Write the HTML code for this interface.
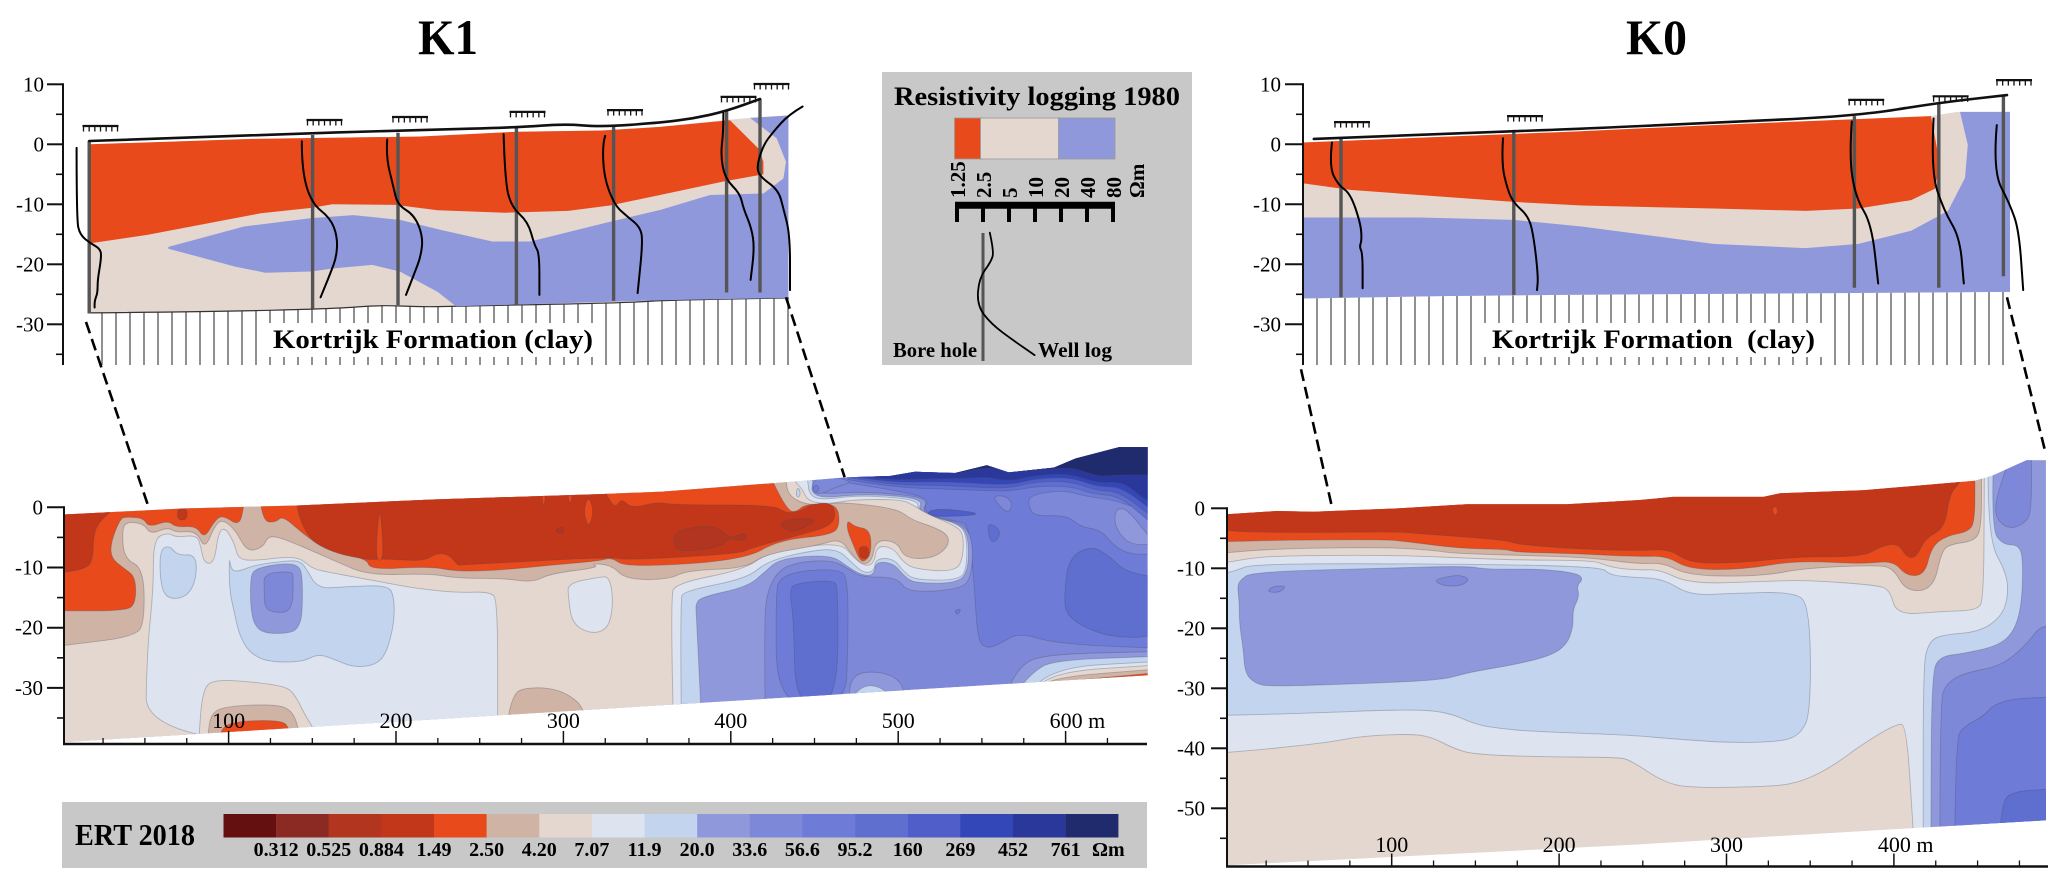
<!DOCTYPE html>
<html lang="en">
<head>
<meta charset="utf-8">
<title>K1 and K0 resistivity sections</title>
<style>
html,body{margin:0;padding:0;background:#fff;}
svg{display:block;}
text{font-family:"Liberation Serif",serif;fill:#000;}
.b{font-weight:bold;}
</style>
</head>
<body>
<svg id="fig" xmlns="http://www.w3.org/2000/svg" width="2067" height="886" viewBox="0 0 2067 886">
  <rect width="2067" height="886" fill="#fff"/>
  <text class="b" x="418" y="54" font-size="50" textLength="60" lengthAdjust="spacingAndGlyphs">K1</text>
  <text class="b" x="1626" y="54" font-size="50" textLength="61" lengthAdjust="spacingAndGlyphs">K0</text>

  <g>
    <rect x="882" y="72" width="310" height="293" fill="#c8c8c8"/>
    <text class="b" x="894" y="105" font-size="26" textLength="286" lengthAdjust="spacingAndGlyphs">Resistivity logging 1980</text>
    <g id="loggingLegend"></g>
    <text class="b" x="893" y="357" font-size="21" textLength="84" lengthAdjust="spacingAndGlyphs">Bore hole</text>
    <text class="b" x="1038" y="357" font-size="21" textLength="74" lengthAdjust="spacingAndGlyphs">Well log</text>
  </g>

  <g id="k1Log"></g>
  <g id="k0Log"></g>
  <g id="k1Ert"></g>
  <g id="k0Ert"></g>

  <g id="k1Labels">
    <text class="b" x="273" y="348" font-size="26" textLength="320" lengthAdjust="spacingAndGlyphs">Kortrijk Formation (clay)</text>
    <text class="b" x="1492" y="348" font-size="26" textLength="323" lengthAdjust="spacingAndGlyphs" xml:space="preserve">Kortrijk Formation  (clay)</text>
  </g>

  <g>
    <rect x="62" y="802" width="1085" height="66" fill="#c8c8c8"/>
    <text class="b" x="75" y="845" font-size="31" textLength="120" lengthAdjust="spacingAndGlyphs">ERT 2018</text>
    <g id="ertLegend"></g>
  </g>
</svg>
<script>
/* ---------- colour levels and legend values ---------- */
const levelColors=["#651010","#8b2a22","#b23520","#c23719","#e84a1b","#cfb3a5","#e3d7cf","#dde4ef","#c2d4ee","#9098dc","#7e88d8","#6e7cd8","#5f6fd0","#4f5ec9","#3347b8","#2b389b","#202b6e"];
const ertLegendLabels=["0.312","0.525","0.884","1.49","2.50","4.20","7.07","11.9","20.0","33.6","56.6","95.2","160","269","452","761"];
const logScaleValues=[1.25,2.5,5,10,20,40,80];
const logScaleLabels=["1.25","2.5","5","10","20","40","80"];
const logLegendBands=[[1.25,2.5,4],[2.5,20,6],[20,80,9]];
const logLegendResistivity=[3,3.35,3.1,2.25,2.13,3.1,5.67,9.9];
const logLegendDepth=[0,3.2,4.8,7.6,12.1,15.2,18,20.4];

/* ---------- axis tick values ---------- */
const logMajorTicks=[10,0,-10,-20,-30];
const logMinorTicks=[5,-5,-15,-25,-35];
const k1ErtMajorTicks=[0,-10,-20,-30];
const k1ErtMinorTicks=[-5,-15,-25,-35];
const k0ErtMajorTicks=[0,-10,-20,-30,-40,-50];
const k0ErtMinorTicks=[-5,-15,-25,-35,-45,-55];
const k1DistanceLabels=[100,200,300,400,500,600];
const k0DistanceLabels=[100,200,300,400];
const k1MinorDistances=[25,50,75,125,150,175,225,250,275,325,350,375,425,450,475,525,550,575,625];
const k0MinorDistances=[25,50,75,125,150,175,225,250,275,325,350,375,425,450,475];

/* ---------- K1 logging section: [distance m, elevation m] ---------- */
const k1LogSurface=[[.6,.55],[82.2,1.55],[166.4,2.4],[214.8,2.8],[238,3.4],[256.9,2.9],[286,3.6],[302.7,4.3],[319.3,5.55],[336,7.55]];
const k1LogTop=[[1.2,0],[82.2,.9],[166.4,1.3],[214.8,2.1],[256.9,2.3],[286,2.9],[317.7,4],[331,4.4],[350.2,4.8]];
const k1LogBottom=[[.6,-28.1],[61.2,-27.9],[124.3,-27.4],[145.4,-26.8],[166.4,-27.1],[183.2,-27],[271.6,-26.4],[285.9,-26],[350.2,-25.6]];
const k1LogBlue=[[40.2,-17.1],[78,-13.7],[111.7,-12.3],[132.7,-11.8],[155.9,-12.6],[176.9,-14.3],[202.2,-16.2],[221.1,-16.2],[261,-12.9],[286,-10.95],[311,-8.45],[337.7,-8.2],[347.7,-5.7],[349,-2.9],[344.3,1],[331,4.4],[350.2,4.8],[350.2,-25.6],[285.9,-26],[184,-27],[174.8,-24.6],[155.9,-21.2],[142.2,-20.1],[122.2,-20.7],[111.7,-21.2],[88.6,-21.4],[73.8,-20.4],[40.2,-17.4]];
const k1LogOrange=[[1.2,-16.5],[29.6,-15.1],[86.4,-11.5],[111.7,-10.6],[122.2,-10],[153.8,-10.1],[174.8,-11],[208.5,-11.4],[240,-11.1],[261,-10.2],[286,-8.45],[317.7,-6.2],[337.7,-5],[337.7,-2.9],[335.2,-.7],[321,4],[286,2.9],[256.9,2.3],[214.8,2.1],[166.4,1.3],[82.2,.9],[1.2,0]];
const k1BoreDistance=[.6,112.3,155,214.2,262.8,319.3,336];
const k1BoreTop=[.55,1.55,1.93,2.8,3.2,5.55,7.55];
const k1BoreBottom=[-28.2,-27.4,-26.8,-26.8,-26.1,-24.7,-24.7];
const k1CombDistance=[6.25,118.25,161,219.75,268.5,325.25,341.75];
const k1CombElevation=[3.05,4.05,4.55,5.4,5.7,7.9,10.05];
const k1WellLog1=[[-5.7,-.6],[-5.7,-12.6],[-4,-15.1],[1.2,-16.5],[6.5,-17.5],[6.5,-19.3],[4.8,-22.6],[4.8,-24.8],[3.3,-26],[3.3,-27.2]];
const k1WellLog2=[[106.9,.5],[106.9,-4.3],[111.7,-9.8],[121.2,-12.3],[124.7,-15.4],[124.3,-18.7],[121.2,-21.5],[116.3,-25.5]];
const k1WellLog3=[[149.6,.8],[149,-2.1],[152.7,-7.1],[154.8,-10.1],[163.2,-11.8],[167.5,-15.4],[166.4,-18.7],[163.2,-21.5],[159,-25.1]];
const k1WellLog4=[[207.8,1.7],[208.5,-6],[211.6,-10.4],[220,-12.9],[223.2,-16.8],[225.7,-18.2],[225.7,-25.1]];
const k1WellLog5=[[258.6,1.4],[257.3,.2],[257.9,-5.4],[263.2,-10.1],[269.5,-12],[275.8,-13.7],[277.5,-15.9],[274.8,-24.8]];
const k1WellLog6=[[317.7,5.2],[317.7,2.1],[316.3,-1.8],[318.5,-5.7],[326,-8.2],[327.7,-10.7],[331.8,-14],[333.2,-17.3],[331.3,-22.6]];
const k1WellLog7=[[357.3,6.3],[350.2,4.9],[342.7,2.1],[337.7,-.1],[334.3,-3.7],[336,-5.4],[345.2,-7.6],[347.7,-10.7],[351,-15.1],[351,-24.3]];

/* ---------- K0 logging section ---------- */
const k0LogSurface=[[5.4,.9],[105.4,2.2],[133.5,2.5],[205.2,3.6],[276.4,4.7],[317.2,6.9],[352,8.2]];
const k0LogTop=[[-.2,.3],[133.5,2.1],[205,3.2],[314,4.7],[327.1,5.4],[353.5,5.4]];
const k0LogBottom=[[-.2,-25.7],[68.6,-25.3],[129.9,-25.1],[353.5,-24.6]];
const k0LogBlue=[[-.2,-12.2],[58.4,-12.2],[105.4,-12.6],[139.3,-13.7],[205.2,-16.6],[251.3,-17.3],[277.7,-16.6],[304.1,-14.4],[322.5,-11.1],[331,-5.6],[332.4,-.1],[328.5,5.4],[353.5,5.4],[353.5,-24.6],[129.9,-25.1],[68.6,-25.3],[-.2,-25.7]];
const k0LogOrange=[[-.2,-6.5],[23.7,-7.6],[105.4,-9.6],[139.3,-10.2],[205.2,-10.7],[251.3,-11.1],[277.7,-10.7],[304.1,-9.3],[315.9,-7.4],[318.5,-3.4],[314,4.7],[205,3.2],[133.5,2.1],[-.2,.3]];
const k0BoreDistance=[19,105.4,275.7,317.9,350.2];
const k0BoreTop=[1,2.4,4.7,6.9,8.2];
const k0BoreBottom=[-25.5,-25.1,-23.9,-23.9,-22];
const k0CombDistance=[24.5,111,281.6,323.8,355.5];
const k0CombElevation=[3.7,4.7,7.4,8,10.7];
const k0WellLog1=[[14.5,.3],[13.1,-3.7],[17.6,-6.8],[23.7,-8.2],[28.8,-13.2],[29.4,-16],[28.2,-17.1],[29.8,-18.2],[29.8,-24]];
const k0WellLog2=[[100,1],[99.2,-3.2],[102.3,-7.6],[105.4,-9.8],[113.1,-12.1],[115.6,-16],[117.6,-22.1],[117,-24.3]];
const k0WellLog3=[[274.4,3.8],[273.1,-2.3],[276.4,-8.9],[284.3,-13.3],[287.6,-23.2]];
const k0WellLog4=[[315.3,4.3],[313.9,-4.5],[320.5,-11.1],[328.4,-15.5],[330.4,-23.2]];
const k0WellLog5=[[346.9,3.2],[344.9,-4.5],[353.5,-10],[358,-14.4],[360.1,-24.3]];

/* ---------- K1 ERT section contours ---------- */
const k1Section=[[1.8,-1.2],[72.6,-.2],[141,.3],[222,1.3],[322,2.2],[359,2.6],[425,4],[448,4.5],[470,5],[495,5.2],[510,5.9],[534,5.7],[553,7],[566,5.8],[593,6.6],[606,8.1],[632,10],[649,10],[649,-27.9],[1.8,-39]];
const k1Right11=[[542,-3.2],[545.3,-12.1],[547.4,-22.1],[552.8,-23.5],[561.3,-22.6],[572,-20.8],[593.3,-22.6],[649,-23.4],[700,-23.4],[700,15],[454.6,15],[454.6,6],[456.8,4.7],[465.3,4.3],[478,3.7],[508,2.3],[518.6,1.2],[514.8,-.2],[520.8,-1.6],[537.8,-2.4]];
const k1PatchA=[[556.4,1.8],[563.4,2],[568.5,.7],[566,-1],[560.8,.1]];
const k1PatchB=[[578,2],[598,2.9],[612.4,1.8],[629,1.2],[639.5,.1],[660,-1],[660,-7.7],[639.5,-7.9],[629,-6.5],[621.4,-3.8],[608.5,-3.2],[600.8,-1.3],[581.4,-1.5],[578,.1]];
const k1PatchC=[[630.5,-.2],[635.6,-.2],[642,-2.1],[649,-4.6],[655,-6.1],[639.5,-6.3],[631.7,-4.3],[629,-2.1]];
const k1Island12Small=[[553,-3.2],[555.6,-2.7],[560.8,-3.8],[560,-5.2],[555.6,-6]];
const k1Island12Big=[[602,-8.2],[616,-6.4],[626.6,-8.2],[634.3,-10.4],[649,-11.5],[660,-11.5],[660,-21],[639.5,-21.8],[618.8,-21],[600.8,-18.2],[599,-14.9]];
const k1Sliver13=[[517,-.7],[526,-.2],[548,-.9],[544,-1.4],[519.5,-1.6]];
const k1Speck11=[[533.6,-17.1],[538,-16.9],[535,-18]];
const k1Top12=[[470,4.6],[495,3.3],[541,2.9],[566,2.6],[583,3.5],[603,3.5],[616,2.2],[632,1.9],[649,-2.1]];
const k1Top13=[[472,4.9],[495,3.7],[521,3.7],[541,3.4],[566,3.1],[583,4.3],[603,4.3],[618,2.8],[632,2.6],[649,-1]];
const k1Top14=[[474,5.1],[495,4.1],[521,4.3],[541,4.1],[566,3.7],[583,4.8],[603,5],[619,3.4],[633,3.4],[649,.1]];
const k1Top15=[[478,5.2],[495,4.5],[521,4.8],[541,4.8],[553,5.1],[566,4.3],[583,5.4],[603,5.6],[619,4],[634,4.3],[645,1.8],[649,1.2]];
const k1Top16=[[534,5.6],[554,6.9],[566,5.8],[593,6.5],[606,6.5],[619,5.1],[632,5.4],[649,5.4]];
const k1Column11=[[427.3,-33.1],[426.9,-14.3],[429,-11.8],[441.8,-10.5],[465.3,-10.3],[470,-12.1],[470,-23.2],[468.5,-33.1]];
const k1Column12=[[438.6,-33.1],[437.6,-18.7],[435,-13.8],[438.6,-12.6],[461,-12.1],[464.2,-13.2],[463.6,-33.1]];
const k1Below33=[[420.5,-33.1],[419.9,-18.7],[422,-13.7],[429,-10.3],[441.8,-9],[461,-8.8],[470.6,-10.3],[478,-11.6],[499.4,-11.6],[505.8,-14.2],[537.8,-13.6],[543.8,-11.5],[544.7,-5.4],[537.8,-2.4],[520.8,-2],[514.4,-.7],[517.6,1.1],[508,2],[478,2.6],[454.6,2.2],[449.3,2.9],[452.5,4.3],[452.5,5.6]];
const k1Below20=[[382,-32.7],[379.4,-17.6],[379,-16.2],[382,-14.9],[410,-13.2],[420.5,-10.7],[428,-8.8],[444,-8.1],[461,-8.1],[469.6,-9.8],[478,-11.3],[485.6,-11.3],[486.6,-9],[497.3,-9.3],[503.7,-11.5],[510,-12.6],[535.7,-12.6],[542,-10.4],[542,-4.9],[536.8,-2.7],[518.6,-1.7],[512,-.2],[514.4,.9],[505.8,1.8],[476,2.2],[454.6,1.5],[447.8,2.6],[449.3,4.1],[448,5.6]];
const k1Below12=[[370.4,-33],[369.8,-15.4],[371.9,-13.9],[410,-11.8],[421.6,-9],[444,-7.4],[463.2,-6.8],[472.8,-9.3],[479.2,-10.9],[485.6,-10.7],[486.6,-8.5],[497.3,-8.5],[503.3,-10.7],[510,-12.1],[536.8,-12.1],[541,-10],[541,-4.6],[535.7,-2.7],[517.6,-1.4],[511.2,0],[512.2,.7],[504.8,1.5],[475,2],[454.6,1.2],[447,2],[446,4.3],[445,5.6]];
const k1Below7=[[365.5,-33.1],[364,-14.9],[367.2,-12.6],[407.7,-10.4],[422.7,-7.4],[465.3,-5.7],[473.8,-8.5],[480.2,-9.8],[485.6,-9.3],[487.3,-6.3],[497.3,-6.8],[502.6,-9],[510,-10.3],[534.6,-10.7],[538.9,-8.2],[538.9,-4.3],[533.6,-3],[516.5,-1],[509,.4],[501.6,1.3],[473.8,1.3],[456.8,.5],[446,1.1],[443,2.9],[437.6,4.5],[436,5.6]];
const k1LeftPale=[[50.2,-39.2],[51.3,-23.7],[55.1,-13.7],[55.1,-5.2],[64.1,-4.2],[68.4,-5],[81.2,-4.6],[83.3,-6.5],[85.4,-9.3],[91.4,-9.3],[94,-4],[98.2,-3.4],[103.5,-6],[105.7,-8.6],[115.3,-8.9],[140.9,-8],[149.4,-10.1],[158,-10.7],[179.3,-11.8],[200.6,-12.9],[213.4,-13.5],[236.9,-14.2],[256,-14],[260.7,-15.4],[260.7,-34.8],[260.7,-40]];
const k1LeftBlueA=[[58.8,-7.1],[64.5,-6.3],[69.4,-8],[80.7,-7.8],[80.7,-12.1],[74.8,-14.9],[64.1,-15.3],[59.4,-13.2]];
const k1LeftBlueB=[[100.4,-8],[101.4,-10.4],[105.7,-10.7],[115.3,-9.6],[136.6,-8.8],[143,-9],[146.2,-10.1],[153.2,-13.5],[168.6,-13.2],[195.3,-12.9],[198.9,-14.9],[198.9,-19.3],[194.2,-24.3],[187.8,-26.2],[175,-26.6],[164.3,-25.4],[153.7,-24.3],[144.1,-25.7],[123.8,-25.7],[113.1,-24.3],[106.7,-21.5],[103.5,-17.6],[100.4,-13.7]];
const k1LeftBlue9=[[113.1,-11.8],[115.3,-10.2],[132.3,-9.3],[141.9,-9.6],[144.1,-11.5],[144.1,-17.6],[142,-19.8],[137.7,-20.9],[121.7,-21],[115.3,-19.6],[113.1,-16.5]];
const k1LeftBlue10=[[121,-11],[137.7,-10.6],[138.7,-11.5],[138.1,-17.4],[126,-17.5],[121.3,-16.5],[121.3,-13.7]];
const k1BottomBeige=[[82.2,-38.4],[84.4,-30.4],[90.8,-28.6],[115.3,-29],[134.5,-29.8],[139.8,-31.2],[146.2,-34.8],[151.5,-37],[151.5,-42],[82,-42]];
const k1BottomTan=[[87.5,-37.8],[89.7,-34],[100.4,-33],[128.1,-32.7],[137.7,-33.7],[142,-36.7],[144,-42],[87,-42]];
const k1BottomOrange=[[94,-37.6],[100.4,-35.6],[131.3,-35.3],[136.6,-36.7],[138,-42],[94,-42]];
const k1BottomTanRight=[[266.7,-34.8],[270,-31.5],[274.2,-30.1],[290.2,-29.9],[303,-31],[313.6,-33.7],[316,-42],[266,-42]];
const k1PaleRight=[[302.6,-12.6],[321.8,-11.6],[326.7,-11.5],[329.2,-13.7],[329.2,-17.6],[325.6,-20.4],[316,-21],[305.1,-19.3],[303,-14.9]];
const k1Corner9=[[566.6,-29.8],[572,-26.2],[589,-24.4],[649,-24]];
const k1Corner8=[[573,-29.8],[580.5,-27.3],[593.3,-25.4],[649,-24.8]];
const k1Corner7=[[583,-29.4],[593.3,-26.6],[649,-25.7]];
const k1Corner6=[[587,-29],[595.4,-27.3],[649,-26.3]];
const k1Corner5=[[590,-29],[597.6,-28.1],[649,-27]];
const k1Corner4=[[595.4,-29],[649,-27.6]];
const k1Blob9=[[470.6,-31.5],[471.7,-28.7],[478,-27.3],[493,-27.5],[501.6,-29],[503.7,-31],[503.7,-36],[470.6,-36]];
const k1Blob8=[[471.7,-31.5],[480.2,-29.5],[488.8,-29.8],[494,-31],[494,-36],[471.7,-36]];
const k1TopBlob10=[[448.2,3.7],[452.2,5.1],[461.1,5.1],[473,4.2],[463,3.4],[455.1,2.3],[450.2,2.3]];
const k1TopBlob11=[[448.8,3.1],[451.2,3.9],[453.2,2.9],[450.2,2.3]];
const k1TopSpeck=[[438.8,2.3],[440.2,3.4],[441.8,2.3],[440.2,1.5]];
const k1Below4=[[-5,-23.2],[1.8,-22.9],[44.9,-21.5],[49.8,-18.7],[49.2,-10.1],[37.4,-8.5],[36.4,-3.5],[39.6,-2.4],[49.2,-2.7],[53.4,-4.5],[63.7,-3.3],[68.4,-4.2],[80.7,-3.9],[85.8,-7],[91.8,-3],[96.5,-2],[104.2,-3.8],[111,-7.4],[120.6,-6.7],[123.8,-4.6],[134.5,-5.4],[153.7,-7.7],[164.3,-9],[183.5,-11.3],[219.8,-11],[236.9,-11.8],[264.6,-11.8],[281.7,-12.5],[292.3,-11],[321.8,-10],[316,-9.3],[328.8,-9.6],[337.3,-12],[363,-12],[373.6,-10.5],[408.8,-10.1],[420.5,-7.8],[452.5,-6.3],[465.3,-5.2],[472.8,-8],[479.2,-9.6],[484.5,-8.8],[486.6,-5.4],[499.4,-5.7],[503.7,-8.5],[520.8,-8.5],[530,-6.5],[530,-4.6],[520.8,-3.2],[508,-2.1],[499.4,-.2],[465.3,.9],[456.8,.4],[444,.5],[434.4,2],[432.9,4.5],[432,5.6]];
const k1Below2Left=[[-5,-17.2],[1.8,-17.2],[38.5,-17.2],[44.5,-16],[44.5,-11.6],[37.4,-10.1],[30,-8.5],[29.5,-6],[35.3,-1.8],[39.6,-1.6],[49.2,-1.8],[52.4,-3.3],[63.7,-2.2],[68.4,-3.3],[80.7,-3.1],[85.4,-5.2],[91.8,-2.2],[96.5,-1.3],[106.7,-3.2],[109.3,.7]];
const k1Below2Right=[[119.1,.7],[120.6,-2.4],[128.1,-2.5],[132.3,-1.4],[144.1,-4.3],[157.9,-7.1],[182.5,-8.5],[184.6,-10.4],[219.8,-9.8],[236.9,-10.7],[264.6,-10.4],[292.3,-9.6],[321.8,-8.9],[328.8,-8.3],[337.3,-10],[407.7,-8.8],[429,-5.4],[461,-4.6],[465.3,-2.7],[463.2,.7],[444,.5],[439.7,-.7],[434.4,-.7],[424.8,4.3],[423.7,5.6]];
const k1OrangeLobe=[[469.6,-2.1],[473.8,-3.2],[483.4,-3.7],[483.9,-7.6],[480.2,-9],[477,-8.8],[472.8,-6],[469.6,-3.8]];
const k1DarkLobe=[[476.4,-6.5],[482.4,-6.5],[482.4,-8.5],[477,-8.5]];
const k1DarkLeft=[[28.9,-.9],[23.6,-2.1],[19.3,-4.3],[18.9,-8.8],[15,-10.1],[1.8,-10.9],[-20,-10.9]];
const k1DarkPatch=[[69.4,-.2],[75.2,-.2],[75.2,-2.1],[69.4,-2.1]];
const k1DarkMain=[[140.9,.1],[144.1,-4.1],[159,-7.3],[183.5,-8.8],[192.1,-8.5],[216.6,-9],[224,-7.6],[231.5,-7.8],[236.9,-9.6],[238.2,-9.6],[329.8,-8.2],[335.8,-8.8],[405.4,-7.7],[411.4,-6.8],[445.2,-4.3],[458.1,-3.2],[463.1,-1.6],[460.1,.9],[447.2,.4],[441.2,-.7],[433.3,-1],[425.3,.4],[365.6,.4],[355.7,.9],[340.7,-.2],[334.8,1.5],[330.8,-.2],[325.8,2.1]];
const k1SliverOrange=[[188,-8.8],[189,-3],[190.3,-.5],[191.5,-3],[192.5,-8.8]];
const k1DropA=[[311.9,-.7],[315,2],[318.2,-.7],[315,-3.5]];
const k1DropB=[[287,2],[289.5,2],[288.2,-.1]];
const k1DropC=[[302.5,2.1],[305.5,2.1],[304,.4]];
const k1Deep2A=[[365.6,-5.4],[368.6,-3.8],[381.5,-3.2],[391.5,-3.2],[398.4,-4.9],[401.4,-5],[409.4,-4.1],[409,-5.7],[401.4,-5.2],[398.4,-5.3],[393.5,-6.6],[371.6,-7.4],[366.6,-6.6]];
const k1Deep2B=[[430.3,-2.7],[435.3,-1.9],[452.2,-1.9],[445.2,-3.2],[436.3,-4.2],[430.3,-3.2]];
const k1Deep2C=[[294,-3.8],[300,-3.1],[300,-4.6]];

/* ---------- K0 ERT section contours ---------- */
const k0Section=[[1.4,-1],[31.3,-.45],[53.2,-.56],[105,0],[144.8,.66],[204.5,.66],[248.3,1.38],[268,1.9],[322,1.9],[332,2.5],[381.7,3],[448.4,4.6],[459.3,5.5],[479.2,8],[490.8,8],[490.8,-52],[411.5,-53.3],[242.3,-56.1],[1.4,-59.5]];
const k0BottomBeige=[[-10,-40.8],[1.4,-40.8],[61.2,-39.1],[81,-38],[109,-37.6],[122.9,-38],[136.8,-40],[148.8,-41],[184.6,-41.4],[234.4,-41.5],[242.3,-41.9],[262,-45.6],[278.1,-46.6],[322,-46.4],[342,-45.9],[361.8,-43.3],[381.7,-39.2],[401.6,-35.9],[407.5,-36.1],[411.5,-53.6]];
const k0MainBlue=[[-10,-10.8],[1.4,-10.8],[7.4,-10.3],[17.4,-9.3],[100,-9.2],[224.4,-9.6],[230.4,-11.1],[242.3,-11.5],[262,-11.7],[278.1,-14.5],[302,-14.2],[339.9,-13.9],[349.8,-16.1],[350.4,-34.2],[343.8,-37.8],[332,-38.9],[302,-39.1],[262,-38.3],[242.3,-37.8],[184.6,-37.2],[164.7,-36.7],[150.8,-36.1],[132.8,-33.9],[109,-33.5],[45.2,-34.2],[1.4,-34.5],[-10,-34.5]];
const k0Main9=[[7.8,-13.1],[9.4,-12],[16.4,-10.6],[95,-10],[144.8,-9.6],[156.7,-10.2],[188.6,-10.1],[210.5,-10.8],[214.5,-11.8],[210.5,-12.9],[212.1,-14.7],[208.1,-16.9],[208.5,-19.7],[204.5,-22.8],[194.6,-24.6],[174.6,-26],[144.8,-27.4],[130.8,-28.6],[85,-29.2],[27.3,-29.7],[18.4,-29.2],[12.4,-27.5],[11.4,-23.6],[9,-19.2],[9,-15.8]];
const k0Speck10A=[[26.3,-13.6],[29.3,-13],[37.3,-12.9],[33.3,-14],[26.9,-14]];
const k0Speck10B=[[125,-12],[132.8,-11.4],[140.8,-11.1],[146.8,-11.8],[141.8,-12.95],[130.8,-12.95]];
const k0Right8=[[456.3,5.8],[456.3,-5.3],[467.3,-10.8],[468.3,-14.7],[464.3,-18],[451.4,-20.6],[427.5,-21.1],[420.5,-22.5],[417.5,-26.4],[417.5,-55.3]];
const k0Right9=[[459.3,6.9],[458.3,-3.6],[465.3,-6.1],[475.2,-6.1],[477.2,-9.2],[476.2,-16.4],[471.3,-20.8],[461.3,-23],[441.4,-24.2],[427.5,-24.7],[422.5,-27.5],[422.1,-55.3]];
const k0RightLobe10=[[467.3,6.9],[460.3,1.4],[461.3,-1.95],[469.3,-3.5],[478.2,-2.5],[482.2,-.6],[482.2,9.2]];
const k0Right10=[[427.5,-55.3],[427.5,-32],[431.4,-29.2],[441.4,-27.5],[461.3,-26.4],[471.3,-24.7],[481.2,-22],[486.2,-20],[493,-19.5]];
const k0Right11=[[436.4,-55.3],[437,-38.6],[441.4,-36.4],[453.3,-34.7],[459.3,-32.8],[471.3,-31.7],[493,-31.5]];
const k0Right12=[[462.9,-55.3],[464.3,-49.2],[470.3,-47.2],[493,-46.8]];
const k0Beige=[[-10,-9.3],[1.4,-9.06],[15.4,-8.3],[35.3,-7.9],[99,-7.8],[144.8,-8.3],[172.7,-8.6],[220.4,-8.7],[227.4,-9.45],[234.4,-10],[248.3,-10.3],[260,-10.2],[278.1,-12.6],[322,-12.2],[345.8,-11.95],[389.6,-12.8],[397.6,-13.6],[401.6,-17.8],[427.5,-17.2],[449.4,-17],[453.7,-15.3],[454,5]];
const k0Tan=[[-10,-7.6],[1.4,-7.4],[33.3,-6.7],[97,-6.5],[125,-7],[136.8,-7.5],[170.7,-7.8],[204.5,-8.06],[224.4,-8.45],[248.3,-9.3],[262,-9.07],[278.1,-11.3],[322,-11.3],[345.8,-10],[389.6,-9.45],[399.6,-10],[407.5,-13.9],[423.5,-13.5],[428.5,-7.2],[433.4,-6],[449.4,-5.4],[452.3,-2.5],[452.3,5.8]];
const k0Orange=[[-10,-5.6],[1.4,-5.56],[35.3,-5.3],[97,-5.2],[109,-5.56],[140.8,-6.7],[168.7,-6.84],[173.6,-7.3],[204.5,-7.5],[248.3,-8.06],[264.2,-7.95],[278.1,-10.2],[310,-10.2],[341.9,-8.7],[381.7,-9.3],[399.6,-8.7],[407.5,-11.3],[418.5,-11.1],[422.5,-6.4],[431.4,-4.6],[444.4,-3.9],[448.4,-2.2],[448.4,5.8]];
const k0Dark=[[-10,-3.5],[1.4,-3.6],[7.4,-3.9],[45.2,-4.06],[103,-3.9],[115,-4.2],[168.7,-5.3],[174.6,-6],[212.5,-6.84],[248.3,-7.06],[266.2,-6.8],[278.1,-9.2],[310,-9.07],[341.9,-8.07],[381.7,-8.07],[391.6,-6.4],[402.6,-5.8],[407.5,-8.2],[413.5,-8.2],[418.5,-5],[430.4,-3.3],[433.4,2.5],[439.4,4.15],[440.4,5.8]];
const k0DropOrange=[[327.3,0],[329.3,.4],[330.9,-.4],[329.3,-1.3],[327.9,-.85]];

/* ---------- connector endpoints as [distance, elevation] on each section ---------- */
const k1ConnectorTop=[-1,-29.6,349,-25.5];
const k1ConnectorBottom=[52,0.2,468,5];
const k0ConnectorTop=[-1,-37.5,352,-25.5];
const k0ConnectorBottom=[64,.6,490.8,9];

/* ---------- axis functions ---------- */
const xK1Log=d=>88+2*d;
const xK0Log=d=>1303+2*d;
const yLog=e=>144.3-6*e;
const xK1Ert=m=>61.2+1.674*m;
const yK1Ert=e=>507.3-6.02*e;
const xK0Ert=m=>1224.3+1.674*m;
const yK0Ert=e=>508.3-6*e;
const xLogScale=r=>957+26*Math.log2(r/1.25);

const NS="http://www.w3.org/2000/svg";
function el(parent,tag,attrs,name){
  const n=document.createElementNS(NS,tag);
  for(const k in attrs)n.setAttribute(k,attrs[k]);
  
  
  parent.appendChild(n);
  return n;
}
function fmt(v){return v.toFixed(1);}
function straight(pts,X,Y){return pts.map((p,i)=>(i?'L':'M')+fmt(X(p[0]))+' '+fmt(Y(p[1]))).join('')+'Z';}
function smoothOpen(pts,X,Y){
  const q=pts.map(p=>[X(p[0]),Y(p[1])]);
  let d='M'+fmt(q[0][0])+' '+fmt(q[0][1]);
  for(let i=1;i<q.length-1;i++){
    const mx=(q[i][0]+q[i+1][0])/2,my=(q[i][1]+q[i+1][1])/2;
    d+='Q'+fmt(q[i][0])+' '+fmt(q[i][1])+' '+fmt(mx)+' '+fmt(my);
  }
  const l=q[q.length-1];
  return d+'L'+fmt(l[0])+' '+fmt(l[1]);
}
function smoothClosed(pts,X,Y){
  const q=pts.map(p=>[X(p[0]),Y(p[1])]),n=q.length;
  const mid=(a,b)=>[(a[0]+b[0])/2,(a[1]+b[1])/2];
  let s=mid(q[n-1],q[0]),d='M'+fmt(s[0])+' '+fmt(s[1]);
  for(let i=0;i<n;i++){
    const m=mid(q[i],q[(i+1)%n]);
    d+='Q'+fmt(q[i][0])+' '+fmt(q[i][1])+' '+fmt(m[0])+' '+fmt(m[1]);
  }
  return d+'Z';
}
const EDGE='rgba(70,70,90,.32)';
function region(g,level,pts,X,Y,name){
  el(g,'path',{d:smoothClosed(pts,X,Y),fill:levelColors[level],stroke:EDGE,'stroke-width':.9},name);
}
function halfPlane(g,level,pts,close,X,Y,name){
  let d=smoothOpen(pts,X,Y);
  close.forEach(p=>{d+='L'+fmt(X(p[0]))+' '+fmt(Y(p[1]));});
  el(g,'path',{d:d+'Z',fill:levelColors[level],stroke:EDGE,'stroke-width':.9},name);
}
function polyline(g,pts,X,Y,stroke,width,name){
  el(g,'path',{d:smoothOpen(pts,X,Y),fill:'none',stroke:stroke,'stroke-width':width,'stroke-linecap':'round','stroke-linejoin':'round'},name);
}
function yAxis(g,axisX,Y,major,minor,topE,bottomY,labelRight,tickLeft,prefix){
  el(g,'line',{x1:axisX,x2:axisX,y1:Y(topE)-1,y2:bottomY,stroke:'#111','stroke-width':2},prefix+'-y-axis');
  major.forEach(v=>{
    el(g,'line',{x1:tickLeft,x2:axisX,y1:Y(v),y2:Y(v),stroke:'#111','stroke-width':2},prefix+'-y-tick');
    const t=el(g,'text',{x:labelRight,y:Y(v)+7,'font-size':21,'text-anchor':'end'},prefix+'-y-tick-label');
    t.textContent=String(v);
  });
  minor.forEach(v=>{
    el(g,'line',{x1:axisX-7,x2:axisX,y1:Y(v),y2:Y(v),stroke:'#111','stroke-width':1.6},prefix+'-y-minor-tick');
  });
}
function xAxis(g,X,axisY,left,right,labels,minor,labelY,prefix){
  el(g,'line',{x1:left,x2:right,y1:axisY,y2:axisY,stroke:'#111','stroke-width':2.6},prefix+'-x-axis');
  labels.forEach((v,i)=>{
    el(g,'line',{x1:X(v),x2:X(v),y1:axisY,y2:axisY-13,stroke:'#111','stroke-width':1.5},prefix+'-x-tick');
    const last=i===labels.length-1;
    const t=el(g,'text',{x:last?X(v)-16:X(v),y:labelY,'font-size':22,'text-anchor':last?'start':'middle'},prefix+'-x-tick-label');
    t.textContent=last?v+' m':String(v);
  });
  minor.forEach(v=>{
    el(g,'line',{x1:X(v),x2:X(v),y1:axisY,y2:axisY-6,stroke:'#111','stroke-width':1.3},prefix+'-x-minor-tick');
  });
}
function interp(pts,d){
  for(let i=0;i<pts.length-1;i++){
    if(d>=pts[i][0]&&d<=pts[i+1][0]){
      const t=(d-pts[i][0])/(pts[i+1][0]-pts[i][0]);
      return pts[i][1]+t*(pts[i+1][1]-pts[i][1]);
    }
  }
  return pts[pts.length-1][1];
}
function comb(g,X,Y,d,e){
  const cx=X(d),y=Y(e);
  el(g,'line',{x1:cx-18,x2:cx+18,y1:y,y2:y,stroke:'#111','stroke-width':2.2},'surface-level-bar');
  for(let i=0;i<7;i++){
    const tx=cx-17+i*34/6;
    el(g,'line',{x1:tx,x2:tx,y1:y,y2:y+5.5,stroke:'#111','stroke-width':1.3},'surface-level-tooth');
  }
}
function hatch(g,X,bottom,from,to,step,labelFrom,labelTo){
  for(let d=from;d<=to;d+=step){
    const x=X(d),top=yLog(interp(bottom,d));
    if(d>labelFrom&&d<labelTo){
      el(g,'line',{x1:x,x2:x,y1:top,y2:323,stroke:'#555','stroke-width':1.3},'clay-hatch-upper');
      el(g,'line',{x1:x,x2:x,y1:357,y2:365,stroke:'#555','stroke-width':1.3},'clay-hatch-lower');
    }else{
      el(g,'line',{x1:x,x2:x,y1:top,y2:365,stroke:'#555','stroke-width':1.3},'clay-hatch-line');
    }
  }
}
function clip(id,pts,X,Y){
  const svg=document.getElementById('fig');
  const c=el(svg,'clipPath',{id:id},id);
  el(c,'path',{d:straight(pts,X,Y)},id+'-shape');
}
function dashed(g,x1,y1,x2,y2,name){
  el(g,'line',{x1:x1,y1:y1,x2:x2,y2:y2,stroke:'#000','stroke-width':2.6,'stroke-dasharray':'12 6'},name);
}

/* ---------- K1 logging panel ---------- */
(function(){
  const g=document.getElementById('k1Log');
  hatch(g,xK1Log,k1LogBottom,7,350,7,88,256);
  const outline=k1LogTop.concat(k1LogBottom.slice().reverse());
  el(g,'path',{d:straight(outline,xK1Log,yLog),fill:levelColors[6]},'k1-log-beige-layer');
  polyline(g,k1LogBottom,xK1Log,yLog,'#333',1.2,'k1-log-base-line');
  el(g,'path',{d:straight(k1LogBlue,xK1Log,yLog),fill:levelColors[9]},'k1-log-blue-layer');
  el(g,'path',{d:straight(k1LogOrange,xK1Log,yLog),fill:levelColors[4]},'k1-log-orange-layer');
  k1BoreDistance.forEach((d,i)=>{
    el(g,'line',{x1:xK1Log(d),x2:xK1Log(d),y1:yLog(k1BoreTop[i]),y2:yLog(k1BoreBottom[i]),stroke:'#555','stroke-width':3.4},'k1-borehole');
  });
  polyline(g,k1LogSurface,xK1Log,yLog,'#111',2.6,'k1-ground-surface');
  [k1WellLog1,k1WellLog2,k1WellLog3,k1WellLog4,k1WellLog5,k1WellLog6,k1WellLog7].forEach(log=>{
    polyline(g,log,xK1Log,yLog,'#000',2,'k1-well-log');
  });
  k1CombDistance.forEach((d,i)=>comb(g,xK1Log,yLog,d,k1CombElevation[i]));
  yAxis(g,63,yLog,logMajorTicks,logMinorTicks,10,365,44,47,'k1-log');
})();

/* ---------- K0 logging panel ---------- */
(function(){
  const g=document.getElementById('k0Log');
  hatch(g,xK0Log,k0LogBottom,7,353,7,88,261);
  const outline=k0LogTop.concat(k0LogBottom.slice().reverse());
  el(g,'path',{d:straight(outline,xK0Log,yLog),fill:levelColors[6]},'k0-log-beige-layer');
  el(g,'path',{d:straight(k0LogBlue,xK0Log,yLog),fill:levelColors[9]},'k0-log-blue-layer');
  el(g,'path',{d:straight(k0LogOrange,xK0Log,yLog),fill:levelColors[4]},'k0-log-orange-layer');
  k0BoreDistance.forEach((d,i)=>{
    el(g,'line',{x1:xK0Log(d),x2:xK0Log(d),y1:yLog(k0BoreTop[i]),y2:yLog(k0BoreBottom[i]),stroke:'#555','stroke-width':3.4},'k0-borehole');
  });
  polyline(g,k0LogSurface,xK0Log,yLog,'#111',2.6,'k0-ground-surface');
  [k0WellLog1,k0WellLog2,k0WellLog3,k0WellLog4,k0WellLog5].forEach(log=>{
    polyline(g,log,xK0Log,yLog,'#000',2,'k0-well-log');
  });
  k0CombDistance.forEach((d,i)=>comb(g,xK0Log,yLog,d,k0CombElevation[i]));
  yAxis(g,1303,yLog,logMajorTicks,logMinorTicks,10,365,1281,1285,'k0-log');
})();

/* ---------- K1 ERT panel ---------- */
(function(){
  const root=document.getElementById('k1Ert');
  clip('k1ErtClip',k1Section,xK1Ert,yK1Ert);
  const g=el(root,'g',{'clip-path':'url(#k1ErtClip)'},'k1-ert-contours');
  const X=xK1Ert,Y=yK1Ert;
  el(g,'path',{d:straight(k1Section,X,Y),fill:levelColors[10]},'k1-ert-base');
  region(g,11,k1Right11,X,Y,'k1-contour-right-95');
  region(g,10,k1PatchA,X,Y,'k1-patch-a');
  region(g,10,k1PatchB,X,Y,'k1-patch-b');
  region(g,9,k1PatchC,X,Y,'k1-patch-c');
  region(g,12,k1Island12Small,X,Y,'k1-island-small');
  region(g,12,k1Island12Big,X,Y,'k1-island-big');
  region(g,13,k1Sliver13,X,Y,'k1-sliver');
  region(g,11,k1Speck11,X,Y,'k1-speck');
  const topClose=[[700,-5],[700,20],[465,20]];
  halfPlane(g,12,k1Top12,topClose,X,Y,'k1-top-band-160');
  halfPlane(g,13,k1Top13,topClose,X,Y,'k1-top-band-269');
  halfPlane(g,14,k1Top14,topClose,X,Y,'k1-top-band-452');
  halfPlane(g,15,k1Top15,topClose,X,Y,'k1-top-band-761');
  halfPlane(g,16,k1Top16,topClose,X,Y,'k1-top-band-max');
  region(g,11,k1Column11,X,Y,'k1-column-95');
  region(g,12,k1Column12,X,Y,'k1-column-160');
  const closeBelow=(first,last)=>[[last[0],14],[-30,14],[-30,-70],[first[0],-70]];
  halfPlane(g,9,k1Below33,closeBelow(k1Below33[0],k1Below33[k1Below33.length-1]),X,Y,'k1-contour-33');
  halfPlane(g,8,k1Below20,closeBelow(k1Below20[0],k1Below20[k1Below20.length-1]),X,Y,'k1-contour-20');
  halfPlane(g,7,k1Below12,closeBelow(k1Below12[0],k1Below12[k1Below12.length-1]),X,Y,'k1-contour-12');
  halfPlane(g,6,k1Below7,closeBelow(k1Below7[0],k1Below7[k1Below7.length-1]),X,Y,'k1-contour-7');
  region(g,7,k1LeftPale,X,Y,'k1-left-pale');
  region(g,8,k1LeftBlueA,X,Y,'k1-left-blue-a');
  region(g,8,k1LeftBlueB,X,Y,'k1-left-blue-b');
  region(g,9,k1LeftBlue9,X,Y,'k1-left-blue-33');
  region(g,10,k1LeftBlue10,X,Y,'k1-left-blue-56');
  region(g,6,k1BottomBeige,X,Y,'k1-bottom-beige');
  region(g,5,k1BottomTan,X,Y,'k1-bottom-tan');
  region(g,4,k1BottomOrange,X,Y,'k1-bottom-orange');
  region(g,5,k1BottomTanRight,X,Y,'k1-bottom-tan-right');
  region(g,7,k1PaleRight,X,Y,'k1-pale-right');
  const cornerClose=[[700,-27.6],[700,-45],[560,-45]];
  halfPlane(g,9,k1Corner9,[[700,-24],[700,-45],[560,-45]],X,Y,'k1-corner-33');
  halfPlane(g,8,k1Corner8,[[700,-24.8],[700,-45],[560,-45]],X,Y,'k1-corner-20');
  halfPlane(g,7,k1Corner7,[[700,-25.7],[700,-45],[560,-45]],X,Y,'k1-corner-12');
  halfPlane(g,6,k1Corner6,[[700,-26.3],[700,-45],[560,-45]],X,Y,'k1-corner-7');
  halfPlane(g,5,k1Corner5,[[700,-27],[700,-45],[560,-45]],X,Y,'k1-corner-4');
  halfPlane(g,4,k1Corner4,cornerClose,X,Y,'k1-corner-2');
  region(g,9,k1Blob9,X,Y,'k1-blob-33');
  region(g,8,k1Blob8,X,Y,'k1-blob-20');
  region(g,10,k1TopBlob10,X,Y,'k1-top-blob');
  region(g,11,k1TopBlob11,X,Y,'k1-top-blob-inner');
  region(g,8,k1TopSpeck,X,Y,'k1-top-speck');
  halfPlane(g,5,k1Below4,[[432,14],[-30,14],[-30,-23.2]],X,Y,'k1-contour-4');
  halfPlane(g,4,k1Below2Left,[[109.3,14],[-30,14],[-30,-17.2]],X,Y,'k1-contour-2-left');
  halfPlane(g,4,k1Below2Right,[[423.7,14],[119.1,14]],X,Y,'k1-contour-2-right');
  region(g,4,k1OrangeLobe,X,Y,'k1-orange-lobe');
  region(g,3,k1DarkLobe,X,Y,'k1-dark-lobe');
  halfPlane(g,3,k1DarkLeft,[[-20,14],[28.9,14]],X,Y,'k1-dark-left');
  region(g,3,k1DarkPatch,X,Y,'k1-dark-patch');
  halfPlane(g,3,k1DarkMain,[[325,14],[139,14]],X,Y,'k1-dark-main');
  region(g,4,k1SliverOrange,X,Y,'k1-orange-sliver');
  region(g,4,k1DropA,X,Y,'k1-drop-a');
  region(g,4,k1DropB,X,Y,'k1-drop-b');
  region(g,4,k1DropC,X,Y,'k1-drop-c');
  region(g,2,k1Deep2A,X,Y,'k1-deep-a');
  region(g,2,k1Deep2B,X,Y,'k1-deep-b');
  region(g,2,k1Deep2C,X,Y,'k1-deep-c');
  yAxis(root,64,Y,k1ErtMajorTicks,k1ErtMinorTicks,0,745,43,47,'k1-ert');
  xAxis(root,X,744,63,1147,k1DistanceLabels,k1MinorDistances,728,'k1-ert');
  dashed(root,xK1Log(k1ConnectorTop[0]),yLog(k1ConnectorTop[1]),X(k1ConnectorBottom[0]),Y(k1ConnectorBottom[1]),'k1-left-connector');
  dashed(root,xK1Log(k1ConnectorTop[2]),yLog(k1ConnectorTop[3]),X(k1ConnectorBottom[2]),Y(k1ConnectorBottom[3]),'k1-right-connector');
})();

/* ---------- K0 ERT panel ---------- */
(function(){
  const root=document.getElementById('k0Ert');
  clip('k0ErtClip',k0Section,xK0Ert,yK0Ert);
  const g=el(root,'g',{'clip-path':'url(#k0ErtClip)'},'k0-ert-contours');
  const X=xK0Ert,Y=yK0Ert;
  el(g,'path',{d:straight(k0Section,X,Y),fill:levelColors[7]},'k0-ert-base');
  halfPlane(g,6,k0BottomBeige,[[411.5,-70],[-10,-70]],X,Y,'k0-bottom-beige');
  region(g,8,k0MainBlue,X,Y,'k0-main-20');
  region(g,9,k0Main9,X,Y,'k0-main-33');
  region(g,10,k0Speck10A,X,Y,'k0-speck-a');
  region(g,10,k0Speck10B,X,Y,'k0-speck-b');
  halfPlane(g,8,k0Right8,[[417.5,-70],[520,-70],[520,20],[456.3,20]],X,Y,'k0-right-20');
  halfPlane(g,9,k0Right9,[[422.1,-70],[520,-70],[520,20],[459.3,20]],X,Y,'k0-right-33');
  halfPlane(g,10,k0RightLobe10,[[467.3,20]],X,Y,'k0-right-lobe-56');
  halfPlane(g,10,k0Right10,[[520,-19.5],[520,-70],[427.5,-70]],X,Y,'k0-right-56');
  halfPlane(g,11,k0Right11,[[520,-31.5],[520,-70],[436.4,-70]],X,Y,'k0-right-95');
  halfPlane(g,12,k0Right12,[[520,-46.8],[520,-70],[462.9,-70]],X,Y,'k0-right-160');
  const top=(last)=>[[last[0],20],[-20,20]];
  halfPlane(g,6,k0Beige,top(k0Beige[k0Beige.length-1]),X,Y,'k0-top-beige');
  halfPlane(g,5,k0Tan,top(k0Tan[k0Tan.length-1]),X,Y,'k0-top-tan');
  halfPlane(g,4,k0Orange,top(k0Orange[k0Orange.length-1]),X,Y,'k0-top-orange');
  halfPlane(g,3,k0Dark,top(k0Dark[k0Dark.length-1]),X,Y,'k0-top-dark');
  region(g,4,k0DropOrange,X,Y,'k0-orange-drop');
  yAxis(root,1227,Y,k0ErtMajorTicks,k0ErtMinorTicks,0,867,1205,1211,'k0-ert');
  xAxis(root,X,866.5,1226,2048,k0DistanceLabels,k0MinorDistances,852,'k0-ert');
  dashed(root,xK0Log(k0ConnectorTop[0]),yLog(k0ConnectorTop[1]),X(k0ConnectorBottom[0]),Y(k0ConnectorBottom[1]),'k0-left-connector');
  dashed(root,xK0Log(k0ConnectorTop[2]),yLog(k0ConnectorTop[3]),X(k0ConnectorBottom[2]),Y(k0ConnectorBottom[3]),'k0-right-connector');
})();

/* ---------- logging legend ---------- */
(function(){
  const g=document.getElementById('loggingLegend');
  logLegendBands.forEach(b=>{
    const x0=xLogScale(b[0])-2.5,x1=xLogScale(b[1]);
    el(g,'rect',{x:x0,y:118,width:x1-x0+(b[1]===80?2:0),height:41,fill:levelColors[b[2]],stroke:'#999','stroke-width':.8},'logging-colour-band');
  });
  el(g,'line',{x1:xLogScale(1.25)-2,x2:xLogScale(80)+2,y1:205.3,y2:205.3,stroke:'#000','stroke-width':7},'logging-scale-bar');
  logScaleValues.forEach((v,i)=>{
    const x=xLogScale(v);
    el(g,'line',{x1:x,x2:x,y1:205,y2:222,stroke:'#000','stroke-width':4},'logging-scale-tick');
    const t=el(g,'text',{x:0,y:0,'font-size':21,'font-weight':'bold',transform:'translate('+(x+8)+' 198) rotate(-90)'},'logging-scale-label');
    t.textContent=logScaleLabels[i];
  });
  const unit=el(g,'text',{x:0,y:0,'font-size':21,'font-weight':'bold',transform:'translate(1144 198) rotate(-90)'},'logging-scale-unit');
  unit.textContent='Ωm';
  el(g,'line',{x1:xLogScale(2.5),x2:xLogScale(2.5),y1:233,y2:361,stroke:'#555','stroke-width':3},'legend-borehole');
  const pts=logLegendResistivity.map((r,i)=>[r,logLegendDepth[i]]);
  polyline(g,pts,xLogScale,d=>232.7+6*d,'#000',1.8,'legend-well-log');
})();

/* ---------- ERT colour legend ---------- */
(function(){
  const g=document.getElementById('ertLegend');
  const x0=223.5,w=52.63;
  levelColors.forEach((c,i)=>{
    el(g,'rect',{x:x0+i*w,y:814,width:w+.2,height:23.5,fill:c},'ert-colour-swatch');
  });
  ertLegendLabels.forEach((s,i)=>{
    const t=el(g,'text',{x:x0+(i+1)*w,y:856,'font-size':20,'font-weight':'bold','text-anchor':'middle'},'ert-colour-label');
    t.textContent=s;
  });
  const unit=el(g,'text',{x:1092,y:856,'font-size':20,'font-weight':'bold'},'ert-colour-unit');
  unit.textContent='Ωm';
})();
</script>
</body>
</html>
